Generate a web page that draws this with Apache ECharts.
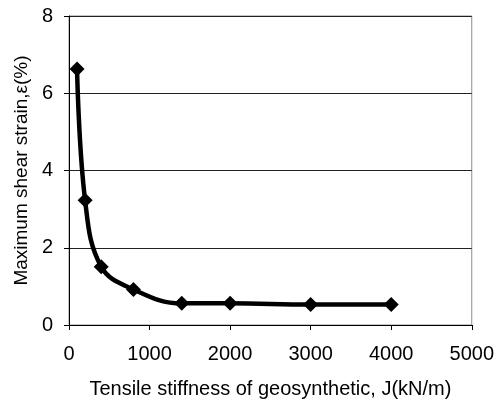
<!DOCTYPE html>
<html>
<head>
<meta charset="utf-8">
<script src="https://cdn.jsdelivr.net/npm/echarts@6/dist/echarts.min.js"></script>
<style>
  html, body { margin: 0; padding: 0; background: #fff; }
  #chart { width: 497px; height: 405px; }
</style>
</head>
<body>
<div id="chart"></div>
<script>
// stiffness J (kN/m) and max shear strain (%)
const stiffness = [100, 200, 400, 800, 1400, 2000, 3000, 4000];
const strain = [6.63, 3.23, 1.51, 0.92, 0.56, 0.56, 0.53, 0.53];
const xTitle = 'Tensile stiffness of geosynthetic, J(kN/m)';
const yTitle = 'Maximum shear strain,\u03b5(%)';

const chart = echarts.init(document.getElementById('chart'));

const font = 'Liberation Sans, Arial, sans-serif';

chart.setOption({
  animation: false,
  grid: { left: 69, right: 23, top: 16, bottom: 80, show: true, borderColor: '#8c8c8c', borderWidth: 1 },
  xAxis: {
    type: 'value',
    min: 0, max: 5000, interval: 1000,
    name: xTitle,
    nameLocation: 'middle',
    nameGap: 54,
    nameTextStyle: { fontFamily: font, fontSize: 20, color: '#000', verticalAlign: 'top' },
    axisLine: { lineStyle: { color: '#000', width: 1 } },
    axisTick: { show: true, length: 5, lineStyle: { color: '#000' } },
    axisLabel: { fontFamily: font, fontSize: 20, color: '#000', margin: 19, formatter: v => String(v) },
    splitLine: { show: false }
  },
  yAxis: {
    type: 'value',
    min: 0, max: 8, interval: 2,
    name: yTitle,
    nameLocation: 'middle',
    nameGap: 37,
    nameTextStyle: { fontFamily: font, fontSize: 19, color: '#000' },
    axisLine: { show: true, lineStyle: { color: '#000', width: 1 } },
    axisTick: { show: true, length: 5, lineStyle: { color: '#000' } },
    axisLabel: { fontFamily: font, fontSize: 20, color: '#000', margin: 16 },
    splitLine: { show: true, lineStyle: { color: '#222', width: 1 } }
  },
  series: [{
    type: 'line',
    data: stiffness.map((x, i) => [x, strain[i]]),
    smooth: 0.4,
    symbol: 'diamond',
    symbolSize: 15,
    itemStyle: { color: '#000' },
    lineStyle: { color: '#000', width: 4.5 }
  }]
});
</script>
</body>
</html>
